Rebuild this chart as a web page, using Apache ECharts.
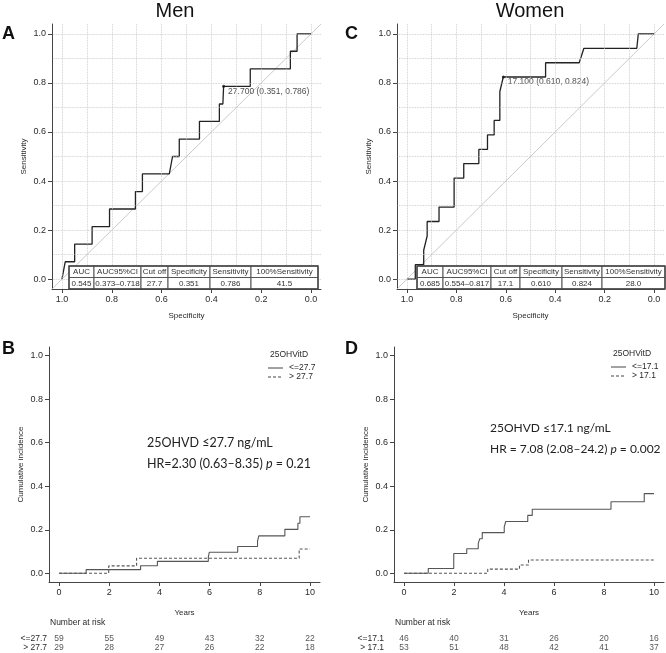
<!DOCTYPE html>
<html><head><meta charset="utf-8">
<script src="https://cdn.jsdelivr.net/npm/echarts@6/dist/echarts.min.js"></script>
<style>html,body{margin:0;padding:0;background:#fff}#c{width:666px;height:653px}</style>
</head><body><div id="c"></div>
<script>
// ---------- data ----------
const rocTicks = [0, 0.2, 0.4, 0.6, 0.8, 1.0];
const rocGridVals = [0, 0.1, 0.2, 0.3, 0.4, 0.5, 0.6, 0.7, 0.8, 0.9, 1.0];
const kmXTicks = [0, 2, 4, 6, 8, 10];
const kmYTicks = [0, 0.2, 0.4, 0.6, 0.8, 1.0];

// ROC vertices [specificity, sensitivity]
const menRoc = [[1.0,0],[0.987,0.071],[0.949,0.071],[0.949,0.143],[0.879,0.143],[0.879,0.214],[0.809,0.214],[0.809,0.286],[0.705,0.286],[0.705,0.357],[0.677,0.357],[0.677,0.429],[0.569,0.429],[0.556,0.5],[0.529,0.5],[0.529,0.571],[0.448,0.571],[0.448,0.643],[0.368,0.643],[0.368,0.714],[0.354,0.714],[0.351,0.786],[0.244,0.786],[0.244,0.857],[0.083,0.857],[0.083,0.929],[0.056,0.929],[0.056,1.0],[0,1.0]];
const womenRoc = [[1.0,0],[0.966,0],[0.966,0.059],[0.932,0.059],[0.932,0.118],[0.918,0.176],[0.918,0.235],[0.870,0.235],[0.870,0.294],[0.809,0.294],[0.809,0.412],[0.770,0.412],[0.770,0.471],[0.709,0.471],[0.709,0.529],[0.674,0.529],[0.674,0.588],[0.647,0.588],[0.647,0.647],[0.624,0.647],[0.624,0.765],[0.610,0.824],[0.439,0.824],[0.439,0.882],[0.303,0.882],[0.284,0.941],[0.070,0.941],[0.064,1.0],[0,1.0]];
const menCut = [0.351, 0.786];
const menCutLabel = '27.700 (0.351, 0.786)';
const womenCut = [0.610, 0.824];
const womenCutLabel = '17.100 (0.610, 0.824)';

const tableHead = ['AUC', 'AUC95%CI', 'Cut off', 'Specificity', 'Sensitivity', '100%Sensitivity'];
const menTableVals = ['0.545', '0.373\u20130.718', '27.7', '0.351', '0.786', '41.5'];
const womenTableVals = ['0.685', '0.554\u20130.817', '17.1', '0.610', '0.824', '28.0'];

// Cumulative incidence events [years, cumulative incidence]
const menKmLow = [[0,0],[1.08,0.017],[3.25,0.035],[3.92,0.055],[5.95,0.075],[5.99,0.097],[7.12,0.123],[7.91,0.148],[7.96,0.172],[9.0,0.202],[9.52,0.23],[9.6,0.26]];
const menKmHigh = [[0,0],[1.98,0.034],[3.09,0.069],[9.57,0.112]];
const womenKmLow = [[0,0],[0.97,0.022],[1.99,0.091],[2.51,0.113],[2.97,0.136],[3.03,0.159],[3.13,0.187],[4.01,0.213],[4.07,0.238],[4.95,0.266],[5.13,0.294],[8.28,0.329],[9.61,0.366]];
const womenKmHigh = [[0,0],[3.35,0.019],[4.62,0.038],[4.98,0.061]];
const followEnd = 10;

const riskTimes = [0, 2, 4, 6, 8, 10];
const menGroups = ['<=27.7', '> 27.7'];
const womenGroups = ['<=17.1', '> 17.1'];
const menRiskLow = [59, 55, 49, 43, 32, 22];
const menRiskHigh = [29, 28, 27, 26, 22, 18];
const womenRiskLow = [46, 40, 31, 26, 20, 16];
const womenRiskHigh = [53, 51, 48, 42, 41, 37];

// ---------- helpers ----------
const F = '"Liberation Sans", Arial, sans-serif';
const TXT = '#2a2a2a';
const AX = '#444';

function stairs(ev, end) {
  const out = [];
  for (let i = 0; i < ev.length; i++) {
    if (i > 0) out.push([ev[i][0], ev[i - 1][1]]);
    out.push(ev[i]);
  }
  out.push([end, ev[ev.length - 1][1]]);
  return out;
}
const ROC_MIN = -0.04, ROC_MAX = 1.04;
function chance() { return [[ROC_MIN, 1 - ROC_MIN], [ROC_MAX, 1 - ROC_MAX]]; }

function valAxis(gi, min, max, ticks, fmt, name, gap, extra) {
  return Object.assign({
    gridIndex: gi, type: 'value', min: min, max: max,
    axisLine: { show: true, onZero: false, lineStyle: { color: AX, width: 1 } },
    axisTick: { show: true, length: 4, customValues: ticks, lineStyle: { color: AX } },
    axisLabel: { customValues: ticks, formatter: fmt, fontSize: 9, color: TXT, fontFamily: F, margin: 6 },
    splitLine: { show: false },
    name: name, nameLocation: 'middle', nameGap: gap,
    nameTextStyle: { fontSize: 8, color: TXT, fontFamily: F }
  }, extra || {});
}
const f1 = v => v.toFixed(1);
const f0 = v => String(v);

const gridMarks = {
  silent: true, symbol: ['none', 'none'], animation: false,
  label: { show: false },
  lineStyle: { type: 'dotted', color: '#c4c4c4', width: 0.8 },
  data: rocGridVals.map(v => ({ xAxis: v })).concat(rocGridVals.map(v => ({ yAxis: v })))
};

function rocSeries(gi, roc, cut, cutLabel) {
  return [
    { type: 'line', xAxisIndex: gi, yAxisIndex: gi, data: chance(), symbol: 'none', silent: true,
      lineStyle: { color: '#bdbdbd', width: 0.8 }, markLine: gridMarks, animation: false, z: 1 },
    { type: 'line', xAxisIndex: gi, yAxisIndex: gi, data: roc, symbol: 'none',
      lineStyle: { color: '#222', width: 1.3 }, animation: false, z: 3 },
    { type: 'scatter', xAxisIndex: gi, yAxisIndex: gi, data: [cut], symbolSize: 3,
      itemStyle: { color: '#111' }, animation: false, z: 4,
      label: { show: true, position: 'right', distance: 3, offset: [0, 5], formatter: cutLabel,
        fontSize: 8.5, color: '#222', fontFamily: F } }
  ];
}
function kmSeries(gi, low, high) {
  return [
    { type: 'line', xAxisIndex: gi, yAxisIndex: gi, data: stairs(low, followEnd), symbol: 'none',
      lineStyle: { color: '#555', width: 1.1 }, animation: false },
    { type: 'line', xAxisIndex: gi, yAxisIndex: gi, data: stairs(high, followEnd), symbol: 'none',
      lineStyle: { color: '#555', width: 1.1, type: [3, 2] }, animation: false }
  ];
}
function riskSeries(gi, groups, a, b) {
  const mk = (arr, g) => riskTimes.map((t, i) => [t, g, arr[i]]);
  return [{ type: 'scatter', xAxisIndex: gi, yAxisIndex: gi, symbolSize: 0, animation: false, silent: true,
    data: mk(a, groups[0]).concat(mk(b, groups[1])),
    label: { show: true, position: 'inside', formatter: p => p.value[2], fontSize: 8.5, color: TXT, fontFamily: F } }];
}

function table(x0, y0, widths, head, vals) {
  const els = [];
  const rh = 11.5;
  let x = x0;
  widths.forEach((w, i) => {
    [head[i], vals[i]].forEach((t, r) => {
      els.push({ type: 'rect', shape: { x: x, y: y0 + r * rh, width: w, height: rh },
        style: { fill: '#fff', stroke: '#555', lineWidth: 1 }, z: 100 });
      els.push({ type: 'text', x: x + w / 2, y: y0 + r * rh + rh / 2 + 0.5, z: 101,
        style: { text: t, fontSize: 8, fontFamily: F, fill: '#333', align: 'center', verticalAlign: 'middle' } });
    });
    x += w;
  });
  els.push({ type: 'rect', shape: { x: x0, y: y0, width: x - x0, height: rh * 2 },
    style: { fill: 'none', stroke: '#444', lineWidth: 1.4 }, z: 102 });
  return els;
}
function legend(x, y, title, groups) {
  const ts = { fontSize: 8.5, fontFamily: F, fill: TXT, verticalAlign: 'middle' };
  return [
    { type: 'text', x: x + 2, y: y, style: Object.assign({ text: title }, ts) },
    { type: 'line', shape: { x1: x, y1: y + 13, x2: x + 15, y2: y + 13 }, style: { stroke: '#444', lineWidth: 1 } },
    { type: 'text', x: x + 21, y: y + 13, style: Object.assign({ text: groups[0] }, ts) },
    { type: 'line', shape: { x1: x, y1: y + 22, x2: x + 15, y2: y + 22 }, style: { stroke: '#444', lineWidth: 1, lineDash: [3, 2] } },
    { type: 'text', x: x + 21, y: y + 22, style: Object.assign({ text: groups[1] }, ts) }
  ];
}
function annot(x, y, cut, hr, ci, p, fs) {
  const fam = 'Lato, "Open Sans", sans-serif';
  const base = { fontSize: fs, fontFamily: fam, fill: '#222' };
  return [
    { type: 'text', x: x, y: y, style: Object.assign({ text: '25OHVD \u2264' + cut + ' ng/mL', verticalAlign: 'middle' }, base) },
    { type: 'text', x: x, y: y + 21, style: Object.assign({
      text: hr + ' ' + ci + ' {i|p} = ' + p, verticalAlign: 'middle',
      rich: { i: { fontStyle: 'italic', fontSize: fs, fontFamily: fam, fill: '#222' } } }, base) }
  ];
}
function letter(t, x, y) {
  return { type: 'text', x: x, y: y, style: { text: t, fontSize: 18, fontWeight: 'bold', fontFamily: F, fill: '#111' } };
}
function plainText(t, x, y, extra) {
  return { type: 'text', x: x, y: y, style: Object.assign({ text: t, fontSize: 8.5, fontFamily: F, fill: TXT, verticalAlign: 'middle' }, extra || {}) };
}

// ---------- chart ----------
const chart = echarts.init(document.getElementById('c'));
const catAxis = (gi, data, margin) => ({
  gridIndex: gi, type: 'category', data: data, inverse: true,
  axisLine: { show: false }, axisTick: { show: false },
  axisLabel: { interval: 0, fontSize: 8.5, color: TXT, fontFamily: F, margin: margin }
});
const option = {
  backgroundColor: '#fff',
  animation: false,
  grid: [
    { left: 52, top: 24, width: 269, height: 265 },
    { left: 397, top: 24, width: 267, height: 265 },
    { left: 49, top: 347, width: 271, height: 235 },
    { left: 394, top: 347, width: 270, height: 235 },
    { left: 49, top: 634, width: 271, height: 18 },
    { left: 394, top: 634, width: 270, height: 18 }
  ],
  xAxis: [
    valAxis(0, ROC_MIN, ROC_MAX, rocTicks, f1, 'Specificity', 23, { inverse: true }),
    valAxis(1, ROC_MIN, ROC_MAX, rocTicks, f1, 'Specificity', 23, { inverse: true }),
    valAxis(2, -0.4, 10.4, kmXTicks, f0, 'Years', 27),
    valAxis(3, -0.4, 10.4, kmXTicks, f0, 'Years', 27),
    { gridIndex: 4, type: 'value', min: -0.4, max: 10.4, show: false },
    { gridIndex: 5, type: 'value', min: -0.4, max: 10.4, show: false }
  ],
  yAxis: [
    valAxis(0, ROC_MIN, ROC_MAX, rocTicks, f1, 'Sensitivity', 24),
    valAxis(1, ROC_MIN, ROC_MAX, rocTicks, f1, 'Sensitivity', 24),
    valAxis(2, -0.04, 1.04, kmYTicks, f1, 'Cumulative incidence', 24),
    valAxis(3, -0.04, 1.04, kmYTicks, f1, 'Cumulative incidence', 24),
    catAxis(4, menGroups, 2),
    catAxis(5, womenGroups, 10)
  ],
  series: [].concat(
    rocSeries(0, menRoc, menCut, menCutLabel),
    rocSeries(1, womenRoc, womenCut, womenCutLabel),
    kmSeries(2, menKmLow, menKmHigh),
    kmSeries(3, womenKmLow, womenKmHigh),
    riskSeries(4, menGroups, menRiskLow, menRiskHigh),
    riskSeries(5, womenGroups, womenRiskLow, womenRiskHigh)
  ),
  graphic: [].concat(
    [
      { type: 'text', x: 175, y: 11, style: { text: 'Men', fontSize: 20, fontFamily: F, fill: '#111', align: 'center', verticalAlign: 'middle' } },
      { type: 'text', x: 530, y: 11, style: { text: 'Women', fontSize: 20, fontFamily: F, fill: '#111', align: 'center', verticalAlign: 'middle' } },
      letter('A', 2, 25), letter('C', 345, 25), letter('B', 2, 340), letter('D', 345, 340),
      plainText('Number at risk', 50, 623), plainText('Number at risk', 395, 623)
    ],
    table(69, 266, [25, 47, 27, 42, 41, 67], tableHead, menTableVals),
    table(417, 266, [26, 48, 29, 42, 40, 63], tableHead, womenTableVals),
    legend(268, 355, '25OHVitD', menGroups),
    legend(611, 354, '25OHVitD', womenGroups),
    annot(147, 443, '27.7', 'HR=2.30', '(0.63\u20138.35)', '0.21', 12.5),
    annot(490, 428, '17.1', 'HR = 7.08', '(2.08\u201324.2)', '0.002', 12)
  )
};
chart.setOption(option);
</script>
</body></html>
